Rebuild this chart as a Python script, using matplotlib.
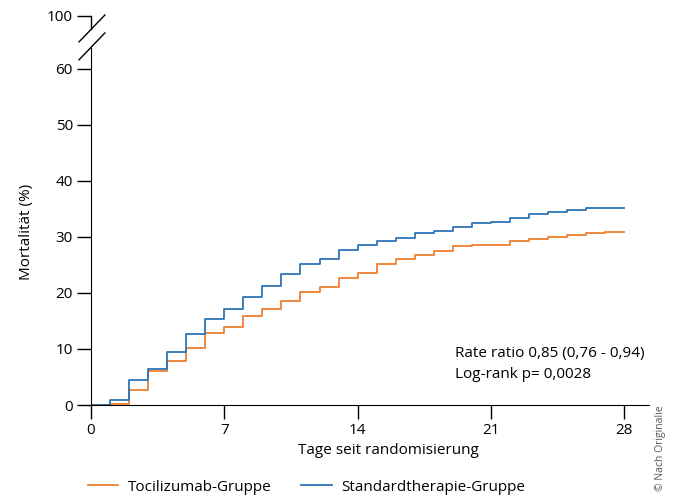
import numpy as np
import matplotlib.pyplot as plt

# Kumulative Mortalität (%) je Tag seit Randomisierung
tage = np.arange(0, 29)
standard = [0, 0.9, 4.4, 6.5, 9.5, 12.6, 15.4, 17.2, 19.3, 21.3,
            23.3, 25.2, 26.1, 27.7, 28.5, 29.3, 29.8, 30.7, 31.0, 31.7,
            32.4, 32.7, 33.3, 34.1, 34.4, 34.8, 35.1, 35.1, 35.1]
tocilizumab = [0, 0.2, 2.6, 6.1, 7.9, 10.2, 12.8, 14.0, 15.8, 17.1,
               18.6, 20.2, 21.1, 22.6, 23.6, 25.1, 26.0, 26.8, 27.5, 28.3,
               28.6, 28.6, 29.2, 29.6, 30.0, 30.4, 30.7, 30.9, 30.9]

xticks = [0, 7, 14, 21, 28]
yticks = [0, 10, 20, 30, 40, 50, 60]
y100 = 69.5  # Position der 100 oberhalb des Achsenbruchs

orange = '#ef7f2f'
blau = '#2c74b8'

plt.rcParams['font.family'] = ['Open Sans', 'DejaVu Sans']
fig = plt.figure(figsize=(6.73, 4.98), dpi=100)
ax = fig.add_axes([91/673, 93/498, 558/673, 390/498])

ax.step(tage, tocilizumab, where='post', color=orange, lw=1.3, label='Tocilizumab-Gruppe')
ax.step(tage, standard, where='post', color=blau, lw=1.3, label='Standardtherapie-Gruppe')

ax.set_xlim(0, 29.3)
ax.set_ylim(0, 69.6)
ax.spines['top'].set_visible(False)
ax.spines['right'].set_visible(False)
ax.spines['left'].set_bounds(0, 63.75)
ax.plot([0, 0], [67.1, y100], color='k', lw=1.0, clip_on=False)
# Achsenbruch
ax.plot([-0.63, 0.73], [64.8, 69.6], color='k', lw=1.0, clip_on=False)
ax.plot([-0.63, 0.73], [61.6, 66.4], color='k', lw=1.0, clip_on=False)

ax.set_xticks(xticks)
ax.set_yticks(yticks + [y100])
ax.set_yticklabels([str(t) for t in yticks] + ['100'])
ax.tick_params(direction='out', length=10, width=1.0, labelsize=11, pad=3)

ax.set_xlabel('Tage seit randomisierung', fontsize=11)
ax.set_ylabel('Mortalität (%)', fontsize=11)
ax.xaxis.set_label_coords(0.533, -0.098)
ax.yaxis.set_label_coords(-0.102, 0.444)

ax.text(455/673, 1 - 353/498, 'Rate ratio 0,85 (0,76 - 0,94)', transform=fig.transFigure,
        fontsize=11, va='center')
ax.text(455/673, 1 - 374/498, 'Log-rank p= 0,0028', transform=fig.transFigure,
        fontsize=11, va='center')

fig.text(660/673, 1 - 448/498, '© Nach Originalie', rotation=90, fontsize=7.5,
         color='#555555', ha='center', va='center')

fig.legend(loc='center left', bbox_to_anchor=(74/673, 1 - 487/498), ncol=2,
           frameon=False, fontsize=11, handlelength=2.0, columnspacing=1.9,
           handletextpad=0.65)

fig.savefig('out.png', dpi=100)
